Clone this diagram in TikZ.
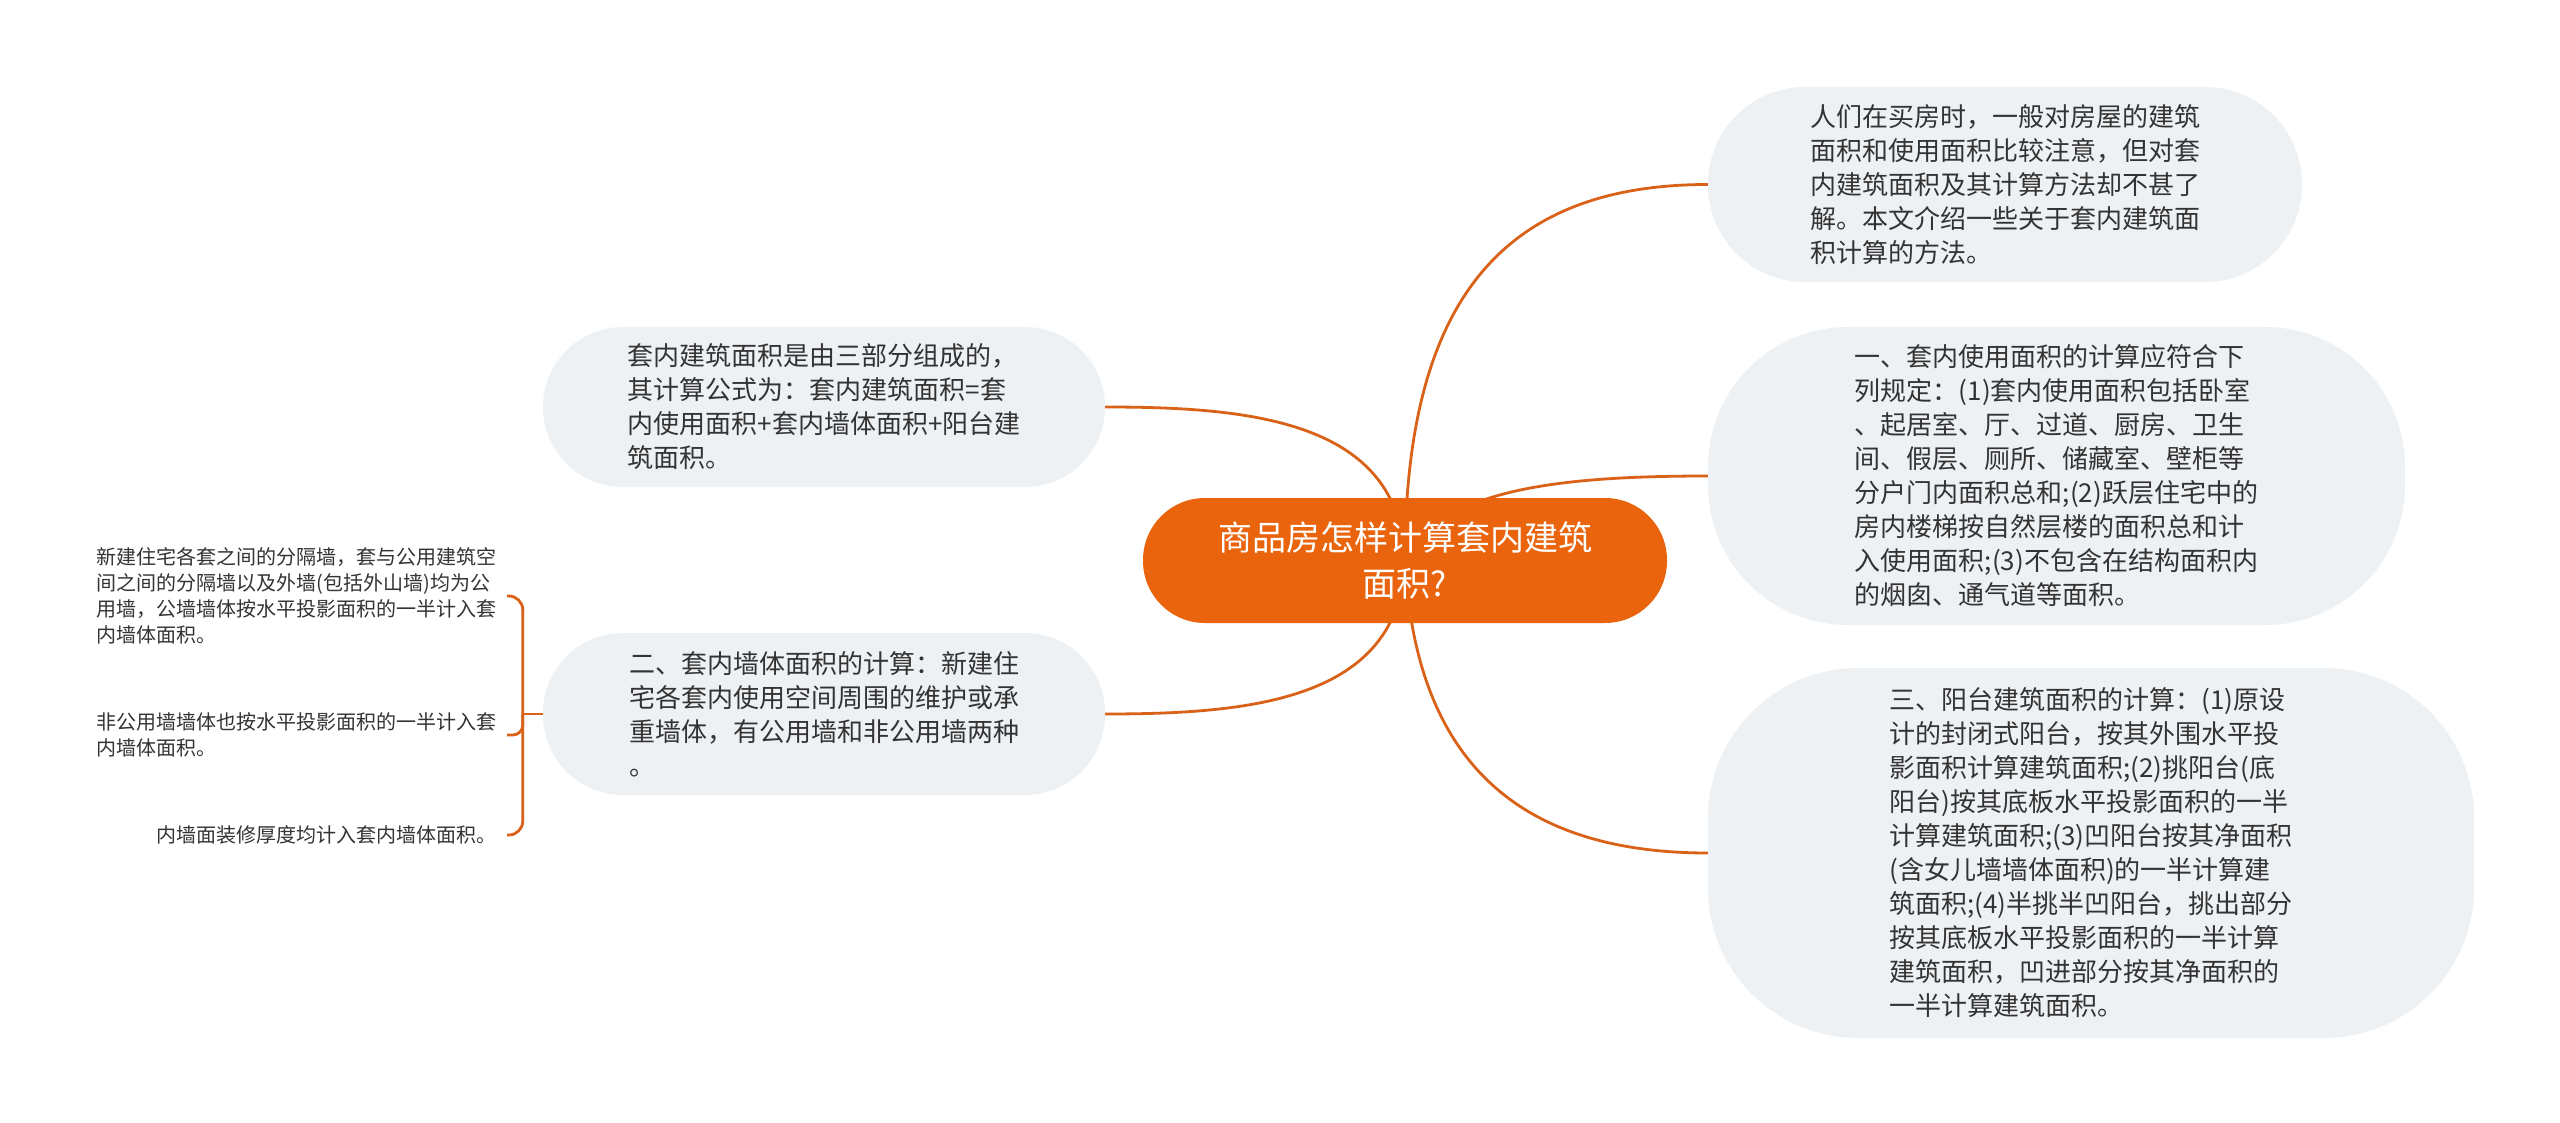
\documentclass[tikz,border=0pt]{standalone}
\usepackage{fontspec}
\newfontfamily\cjk{Noto Sans CJK SC}
\usetikzlibrary{calc,backgrounds}
\definecolor{mainorange}{HTML}{E9640C}
\definecolor{lineorange}{HTML}{DA6218}
\definecolor{nodegray}{HTML}{EEF1F4}
\definecolor{txtgray}{HTML}{333333}
\tikzset{
  conn/.style={draw=lineorange, line width=2.8pt},
  central/.style={fill=mainorange, text=white, inner sep=0pt, align=center,
    minimum width=524pt, minimum height=125pt, rounded corners=62pt,
    font=\cjk\fontsize{34}{46}\selectfont},
  topic/.style={fill=nodegray, text=txtgray, inner sep=0pt, align=left,
    font=\cjk\fontsize{26}{34}\selectfont},
  leaf/.style={text=txtgray, inner sep=0pt, align=left, anchor=east,
    font=\cjk\fontsize{20}{26}\selectfont}
}
\begin{document}
\begin{tikzpicture}[x=1pt,y=-1pt]
\useasboundingbox (0,0) rectangle (2560,1123);

\node[central] (c) at (1405,560.5) {商品房怎样计算套内建筑\\面积?};

\node[topic, minimum width=594pt, minimum height=195pt, rounded corners=97pt] (i) at (2005,184.5)
 {人们在买房时，一般对房屋的建筑\\面积和使用面积比较注意，但对套\\内建筑面积及其计算方法却不甚了\\解。本文介绍一些关于套内建筑面\\积计算的方法。};

\node[topic, minimum width=697pt, minimum height=298pt, rounded corners=140pt] (n2) at (2056.5,476)
 {一、套内使用面积的计算应符合下\\列规定：(1)套内使用面积包括卧室\\、起居室、厅、过道、厨房、卫生\\间、假层、厕所、储藏室、壁柜等\\分户门内面积总和;(2)跃层住宅中的\\房内楼梯按自然层楼的面积总和计\\入使用面积;(3)不包含在结构面积内\\的烟囱、通气道等面积。};

\node[topic, minimum width=766pt, minimum height=370pt, rounded corners=150pt] (n3) at (2091,853)
 {三、阳台建筑面积的计算：(1)原设\\计的封闭式阳台，按其外围水平投\\影面积计算建筑面积;(2)挑阳台(底\\阳台)按其底板水平投影面积的一半\\计算建筑面积;(3)凹阳台按其净面积\\(含女儿墙墙体面积)的一半计算建\\筑面积;(4)半挑半凹阳台，挑出部分\\按其底板水平投影面积的一半计算\\建筑面积，凹进部分按其净面积的\\一半计算建筑面积。};

\node[topic, minimum width=562pt, minimum height=160pt, rounded corners=80pt] (a) at (824,407)
 {套内建筑面积是由三部分组成的，\\其计算公式为：套内建筑面积=套\\内使用面积+套内墙体面积+阳台建\\筑面积。};

\node[topic, minimum width=562pt, minimum height=162pt, rounded corners=80pt] (b) at (824,714)
 {二、套内墙体面积的计算：新建住\\宅各套内使用空间周围的维护或承\\重墙体，有公用墙和非公用墙两种\\。};

\node[leaf] (l1) at (497,596)
 {新建住宅各套之间的分隔墙，套与公用建筑空\\间之间的分隔墙以及外墙(包括外山墙)均为公\\用墙，公墙墙体按水平投影面积的一半计入套\\内墙体面积。};
\node[leaf] (l2) at (497,735)
 {非公用墙墙体也按水平投影面积的一半计入套\\内墙体面积。};
\node[leaf] (l3) at (497,835) {内墙面装修厚度均计入套内墙体面积。};

\coordinate (j) at ($(b.west)+(-20,0)$);

\begin{scope}[on background layer]
\fill[white] (0,0) rectangle (2560,1123);
\draw[conn] (c.center) .. controls ($(c.center)+(0,-260)$) and ($(i.west)+(-205,0)$) .. (i.west);
\draw[conn] (c.center) .. controls ($(c.center)+(35,-70)$) and ($(n2.west)+(-155,0)$) .. (n2.west);
\draw[conn] (c.center) .. controls ($(c.center)+(10,200)$) and ($(n3.west)+(-190,0)$) .. (n3.west);
\draw[conn] (c.center) .. controls ($(c.center)+(-5,-140)$) and ($(a.east)+(145,0)$) .. (a.east);
\draw[conn] (c.center) .. controls ($(c.center)+(-5,140)$) and ($(b.east)+(145,0)$) .. (b.east);
\end{scope}

\draw[conn] (b.west) -- (j);
\draw[conn, rounded corners=14pt] (j) |- ($(l1.east)+(10,0)$);
\draw[conn, rounded corners=10pt] (j) |- ($(l2.east)+(10,0)$);
\draw[conn, rounded corners=14pt] (j) |- ($(l3.east)+(10,0)$);
\end{tikzpicture}
\end{document}
